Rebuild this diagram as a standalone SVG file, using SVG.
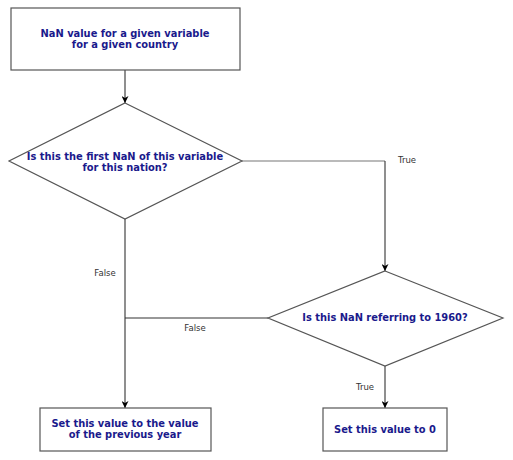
<svg xmlns="http://www.w3.org/2000/svg" width="513" height="460" viewBox="0 0 513 460">
<defs>
<style>
.node{fill:#fff;stroke:#555;stroke-width:1.2}
.t{font-family:"DejaVu Sans",sans-serif;font-weight:bold;font-size:9.9px;fill:#1a1a8c;text-anchor:middle}
.lbl{font-family:"DejaVu Sans",sans-serif;font-size:8.5px;fill:#333;text-anchor:middle}
.c{fill:none;stroke:#333;stroke-width:1.1}
.cg{fill:none;stroke:#777;stroke-width:1.2}
</style>
<marker id="a" viewBox="0 0 10 10" refX="10" refY="5" markerWidth="7" markerHeight="7" orient="auto" markerUnits="userSpaceOnUse">
<path d="M0,0 L10,5 L0,10 L3,5 z" fill="#000"/>
</marker>
</defs>
<rect width="513" height="460" fill="#fff"/>
<g id="connectors">
<line class="c" x1="125" y1="70" x2="125" y2="103" marker-end="url(#a)"/>
<line class="cg" x1="242" y1="161" x2="385" y2="161"/>
<line class="c" x1="385" y1="161" x2="385" y2="271" marker-end="url(#a)"/>
<line class="c" x1="125" y1="219" x2="125" y2="408" marker-end="url(#a)"/>
<line class="c" x1="268" y1="318" x2="125" y2="318"/>
<line class="c" x1="385" y1="366" x2="385" y2="408" marker-end="url(#a)"/>
<text class="lbl" x="407" y="163">True</text>
<text class="lbl" x="105" y="276">False</text>
<text class="lbl" x="195" y="331">False</text>
<text class="lbl" x="365" y="390">True</text>
</g>
<g id="start">
<rect class="node" x="11" y="8" width="229" height="62"/>
<text class="t" x="125" y="37">NaN value for a given variable</text>
<text class="t" x="125" y="48">for a given country</text>
</g>
<g id="q1">
<polygon class="node" points="125,103 242,161 125,219 9,161"/>
<text class="t" x="125" y="160">Is this the first NaN of this variable</text>
<text class="t" x="125" y="171">for this nation?</text>
</g>
<g id="q2">
<polygon class="node" points="385,271 503,318 385,366 268,318"/>
<text class="t" x="385" y="321">Is this NaN referring to 1960?</text>
</g>
<g id="prev">
<rect class="node" x="40" y="408" width="171" height="43"/>
<text class="t" x="125" y="427">Set this value to the value</text>
<text class="t" x="125" y="438">of the previous year</text>
</g>
<g id="zero">
<rect class="node" x="323" y="408" width="124" height="43"/>
<text class="t" x="385" y="433">Set this value to 0</text>
</g>
</svg>
